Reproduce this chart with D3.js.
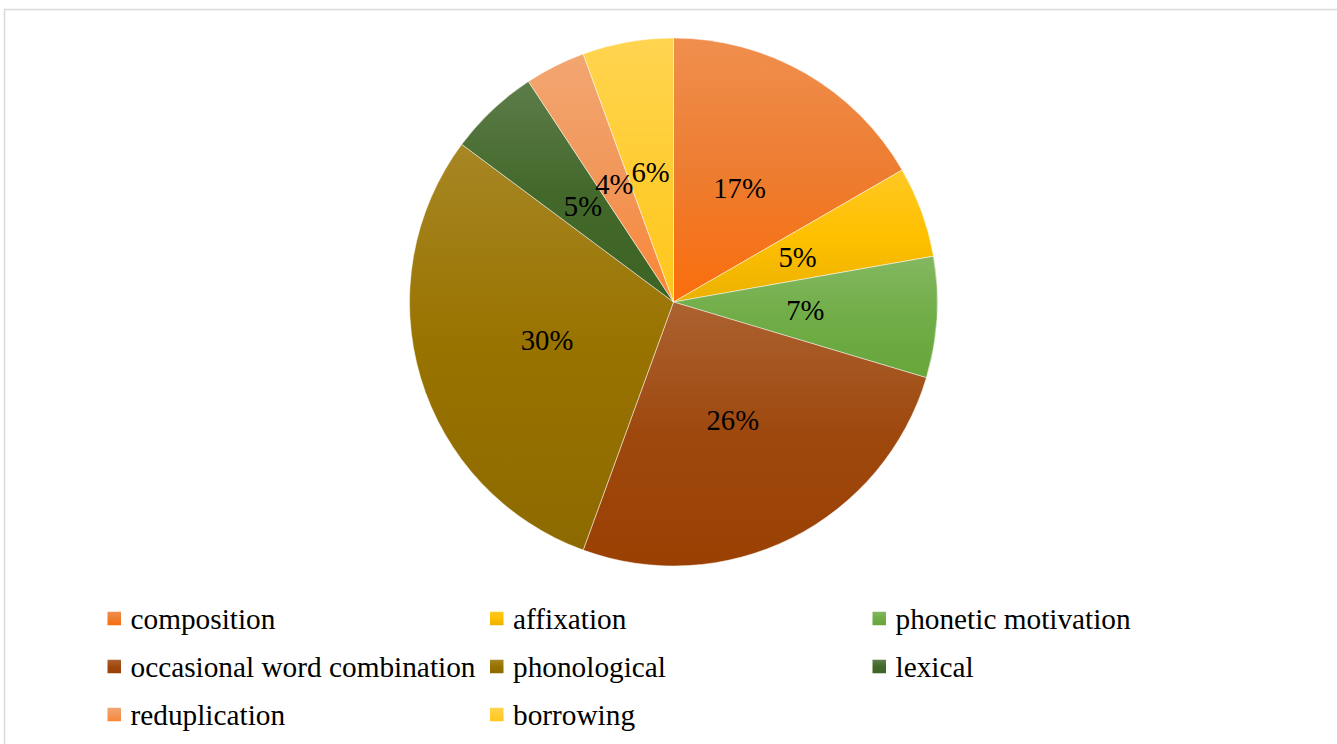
<!DOCTYPE html>
<html>
<head>
<meta charset="utf-8">
<script src="https://cdn.jsdelivr.net/npm/d3@7"></script>
<style>
  html, body { margin: 0; padding: 0; background: #fff; }
  svg { display: block; }
</style>
</head>
<body>
<svg id="chart" width="1337" height="744"></svg>
<script>
const categories = ["composition", "affixation", "phonetic motivation", "occasional word combination", "phonological", "lexical", "reduplication", "borrowing"];
const values = [9, 3, 4, 14, 16, 3, 2, 3];
const labels = ["17%", "5%", "7%", "26%", "30%", "5%", "4%", "6%"];
const colors = ["#ED7D31", "#FFC000", "#70AD47", "#9E480E", "#997300", "#43682B", "#F1975A", "#FFCD33"];

const svg = d3.select("#chart");
const W = 1337, H = 744;
const cx = 673.5, cy = 302, R = 264;
const font = "'Liberation Serif', 'Times New Roman', serif";

// border
svg.append("rect").attr("x", 4.5).attr("y", 9.5).attr("width", W + 10).attr("height", H + 10)
  .attr("fill", "none").attr("stroke", "#D9D9D9").attr("stroke-width", 1.5);

// gradients
const defs = svg.append("defs");
colors.forEach((c, i) => {
  const base = d3.rgb(c);
  const top = d3.interpolateRgb(c, "#ffffff")(0.14);
  const h = d3.hsl(c);
  const bottom = d3.hsl(h.h, Math.min(1, h.s * 1.15), h.l * 0.92).formatHex();
  const g = defs.append("linearGradient").attr("id", "grad" + i)
    .attr("x1", 0).attr("y1", 0).attr("x2", 0).attr("y2", 1);
  g.append("stop").attr("offset", "0%").attr("stop-color", top);
  g.append("stop").attr("offset", "50%").attr("stop-color", base.formatHex());
  g.append("stop").attr("offset", "100%").attr("stop-color", bottom);
});

const data = categories.map((c, i) => ({ name: c, value: values[i], label: labels[i], i }));
const pie = d3.pie().value(d => d.value).sort(null);
const arc = d3.arc().innerRadius(0).outerRadius(R);
const arcs = pie(data);

const g = svg.append("g").attr("transform", `translate(${cx},${cy})`);
g.selectAll("path.slice").data(arcs).join("path")
  .attr("class", "slice")
  .attr("d", arc)
  .attr("fill", d => `url(#grad${d.data.i})`)
  .attr("stroke", "#ffffff").attr("stroke-opacity", 0.6).attr("stroke-width", 0.8);

g.selectAll("text.lbl").data(arcs).join("text")
  .attr("class", "lbl")
  .attr("transform", d => `translate(${arc.centroid(d)})`)
  .attr("text-anchor", "middle")
  .attr("dominant-baseline", "central")
  .attr("font-family", font)
  .attr("font-size", 28.7)
  .attr("fill", "#000")
  .text(d => d.data.label);

// legend
const legX0 = 107.5, colW = 382.5, rowY0 = 618.5, rowH = 48, sw = 13.5;
const leg = svg.append("g");
data.forEach((d, k) => {
  const col = k % 3, row = Math.floor(k / 3);
  const x = legX0 + col * colW, y = rowY0 + row * rowH;
  leg.append("rect").attr("x", x).attr("y", y - sw / 2).attr("width", sw).attr("height", sw)
    .attr("fill", `url(#grad${d.i})`);
  leg.append("text").attr("x", x + 23).attr("y", y + 10)
    .attr("font-family", font).attr("font-size", 29.3).attr("fill", "#000")
    .text(d.name);
});
</script>
</body>
</html>
